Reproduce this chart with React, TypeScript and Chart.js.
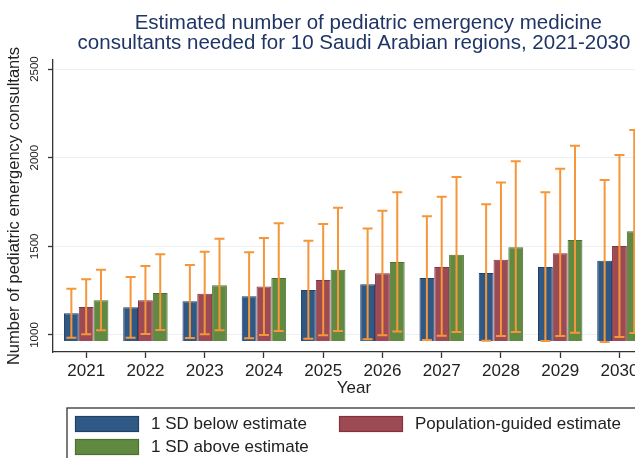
import React, { useEffect, useRef } from "react";
import { Chart, registerables } from "chart.js";

Chart.register(...registerables);

const years = [2021, 2022, 2023, 2024, 2025, 2026, 2027, 2028, 2029, 2030];
const yTickValues = [1000, 1500, 2000, 2500];
const barBase = 966;

const lowerEst = [1122, 1156, 1190, 1218, 1254, 1286, 1321, 1350, 1383, 1419];
const popEst = [1158, 1196, 1233, 1273, 1310, 1348, 1383, 1425, 1461, 1502];
const upperEst = [1196, 1237, 1280, 1321, 1368, 1412, 1453, 1495, 1536, 1585];

const lowerEstLo = [985, 985, 983, 981, 979, 976, 972, 968, 966, 961];
const lowerEstHi = [1261, 1327, 1395, 1466, 1532, 1600, 1669, 1737, 1805, 1874];
const popEstLo = [1004, 1006, 1004, 1000, 998, 998, 995, 994, 994, 989];
const popEstHi = [1314, 1389, 1470, 1547, 1626, 1701, 1780, 1860, 1938, 2015];
const upperEstLo = [1026, 1028, 1026, 1022, 1022, 1019, 1017, 1017, 1013, 1011];
const upperEstHi = [1368, 1455, 1543, 1630, 1718, 1805, 1891, 1980, 2068, 2156];

const seriesLabels = ["1 SD below estimate", "Population-guided estimate", "1 SD above estimate"];
const titleLines = [
  "     Estimated number of pediatric emergency medicine",
  "consultants needed for 10 Saudi Arabian regions, 2021-2030",
];
const xTitle = "Year";
const yTitle = "Number of pediatric emergency consultants";

const FONT = "'Liberation Sans', Arial, Helvetica, sans-serif";

const errorBars = {
  id: "errorBars",
  afterDatasetsDraw(chart: any) {
    const ctx = chart.ctx;
    const yScale = chart.scales.y;
    ctx.save();
    ctx.strokeStyle = "#f5963a";
    ctx.lineWidth = 2;
    chart.data.datasets.forEach((ds: any, i: number) => {
      const meta = chart.getDatasetMeta(i);
      meta.data.forEach((el: any, j: number) => {
        const x = el.x;
        const yl = yScale.getPixelForValue(ds.errLow[j]);
        const yh = yScale.getPixelForValue(ds.errHigh[j]);
        ctx.beginPath();
        ctx.moveTo(x, yl);
        ctx.lineTo(x, yh);
        ctx.moveTo(x - 5, yl);
        ctx.lineTo(x + 5, yl);
        ctx.moveTo(x - 5, yh);
        ctx.lineTo(x + 5, yh);
        ctx.stroke();
      });
    });
    ctx.restore();
  },
};

const boxLegend = {
  id: "boxLegend",
  afterDraw(chart: any) {
    const ctx = chart.ctx;
    const ca = chart.chartArea;
    const cx = (ca.left + ca.right) / 2;
    const left = ca.left + 14;
    const right = 2 * cx - left;
    const top = 408;
    ctx.save();
    ctx.strokeStyle = "#333";
    ctx.lineWidth = 1.3;
    ctx.strokeRect(left, top, right - left, 90);
    ctx.font = `17px ${FONT}`;
    ctx.textBaseline = "middle";
    ctx.textAlign = "left";
    chart.data.datasets.forEach((ds: any, k: number) => {
      const row = Math.floor(k / 2);
      const col = k % 2;
      const sx = left + 8 + col * 264;
      const sy = top + 8 + row * 23;
      ctx.fillStyle = ds.backgroundColor;
      ctx.fillRect(sx, sy, 64, 16);
      ctx.strokeStyle = ds.borderColor;
      ctx.lineWidth = 1.2;
      ctx.strokeRect(sx + 0.5, sy + 0.5, 63, 15);
      ctx.fillStyle = "#222";
      ctx.fillText(ds.label, sx + 76, sy + 8.5);
    });
    ctx.restore();
  },
};

export default function App() {
  const ref = useRef<HTMLCanvasElement>(null);

  useEffect(() => {
    document.body.style.margin = "0";
    const mk = (vals: number[]) => vals.map((v, i) => ({ x: years[i], y: [barBase, v] }));
    const chart = new Chart(ref.current as HTMLCanvasElement, {
      type: "bar",
      data: {
        datasets: [
          {
            label: seriesLabels[0],
            data: mk(lowerEst),
            backgroundColor: "#2f5984",
            borderColor: "#1f4068",
            borderWidth: 1,
            errLow: lowerEstLo,
            errHigh: lowerEstHi,
          } as any,
          {
            label: seriesLabels[1],
            data: mk(popEst),
            backgroundColor: "#9c4a54",
            borderColor: "#8a303b",
            borderWidth: 1,
            errLow: popEstLo,
            errHigh: popEstHi,
          } as any,
          {
            label: seriesLabels[2],
            data: mk(upperEst),
            backgroundColor: "#608a41",
            borderColor: "#4d7230",
            borderWidth: 1,
            errLow: upperEstLo,
            errHigh: upperEstHi,
          } as any,
        ],
      },
      options: {
        animation: false,
        responsive: false,
        devicePixelRatio: 1,
        layout: { padding: { left: 0, right: 25, top: 0, bottom: 61 } },
        datasets: { bar: { barPercentage: 1, categoryPercentage: 0.75 } },
        plugins: {
          legend: { display: false },
          tooltip: { enabled: false },
          title: {
            display: true,
            text: titleLines,
            fullSize: false,
            color: "#1f3566",
            font: { family: FONT, size: 20.5, weight: "normal", lineHeight: "20px" },
            padding: { top: 13, bottom: 7 },
          },
        },
        scales: {
          x: {
            type: "linear",
            min: 2020.44,
            max: 2030.6,
            offset: false,
            afterBuildTicks: (s: any) => {
              s.ticks = years.map((v) => ({ value: v }));
            },
            afterFit: (s: any) => {
              s.height = 45;
            },
            ticks: {
              color: "#222",
              font: { family: FONT, size: 17 },
              padding: 3,
              callback: (v: any) => String(v),
              autoSkip: false,
              maxRotation: 0,
            },
            grid: {
              offset: false,
              drawOnChartArea: false,
              drawTicks: true,
              tickLength: 6,
              tickColor: "#333",
              tickWidth: 1.3,
            },
            border: { display: true, color: "#333", width: 1.3 },
            title: {
              display: true,
              text: xTitle,
              color: "#222",
              font: { family: FONT, size: 17, lineHeight: 1 },
              padding: { top: 0, bottom: 0 },
            },
          },
          y: {
            min: 904,
            max: 2551,
            afterBuildTicks: (s: any) => {
              s.ticks = yTickValues.map((v) => ({ value: v }));
            },
            afterFit: (s: any) => {
              s.width = 53;
            },
            ticks: {
              color: "#222",
              font: { family: FONT, size: 11.5 },
              minRotation: 90,
              maxRotation: 90,
              crossAlign: "center",
              padding: 0,
              callback: (v: any) => String(v),
            },
            grid: {
              color: "#e8f1f5",
              lineWidth: 1,
              tickLength: 5,
              tickColor: "#333",
              tickWidth: 1.3,
            },
            border: { display: true, color: "#333", width: 1.3 },
            title: {
              display: true,
              text: yTitle,
              color: "#222",
              font: { family: FONT, size: 16.5 },
              padding: { top: 5, bottom: 0 },
            },
          },
        },
      },
      plugins: [errorBars, boxLegend],
    } as any);
    return () => chart.destroy();
  }, []);

  return (
    <div style={{ position: "absolute", left: 0, top: 0, width: 635, height: 458, overflow: "hidden", background: "#fff" }}>
      <canvas ref={ref} width={680} height={458} style={{ width: 680, height: 458, display: "block" }} />
    </div>
  );
}
